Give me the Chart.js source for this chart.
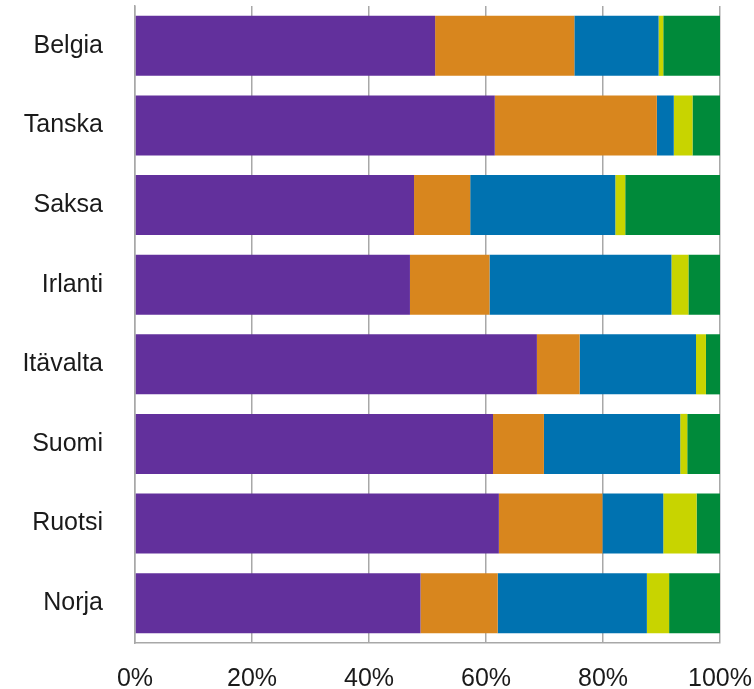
<!DOCTYPE html>
<html>
<head>
<meta charset="utf-8">
<script src="https://cdn.jsdelivr.net/npm/chart.js@4/dist/chart.umd.min.js"></script>
<style>
  html, body { margin: 0; padding: 0; background: #fff; }
  #wrap { width: 754px; height: 689px; }
</style>
</head>
<body>
<div id="wrap"><canvas id="shareChart"></canvas></div>
<script>
const countries = ['Belgia', 'Tanska', 'Saksa', 'Irlanti', 'Itävalta', 'Suomi', 'Ruotsi', 'Norja'];
const purpleShare = [51.3, 61.5, 47.7, 47.0, 68.7, 61.2, 62.2, 48.8];
const orangeShare = [23.8, 27.7, 9.6, 13.6, 7.3, 8.7, 17.7, 13.2];
const blueShare   = [14.4, 2.9, 24.8, 31.1, 19.9, 23.3, 10.4, 25.5];
const yellowShare = [0.8, 3.2, 1.7, 2.9, 1.7, 1.2, 5.7, 3.8];
const greenShare  = [9.7, 4.7, 16.2, 5.4, 2.4, 5.6, 4.0, 8.7];
const xTicks = [0, 20, 40, 60, 80, 100];

const ctxShare = document.getElementById('shareChart').getContext('2d');
new Chart(ctxShare, {
    type: 'bar',
    data: {
        labels: countries,
        datasets: [
            { label: 'Sarja 1', data: purpleShare, backgroundColor: '#62309C' },
            { label: 'Sarja 2', data: orangeShare, backgroundColor: '#D8861E' },
            { label: 'Sarja 3', data: blueShare, backgroundColor: '#0072B0' },
            { label: 'Sarja 4', data: yellowShare, backgroundColor: '#C8D400' },
            { label: 'Sarja 5', data: greenShare, backgroundColor: '#008A3A' }
        ]
    },
    options: {
        indexAxis: 'y',
        responsive: true,
        maintainAspectRatio: false,
        animation: false,
        layout: { padding: { top: 6, right: 34, left: 0, bottom: 0 } },
        datasets: {
            bar: { categoryPercentage: 1, barPercentage: 0.755 }
        },
        plugins: {
            legend: { display: false },
            tooltip: { enabled: false }
        },
        scales: {
            x: {
                stacked: true,
                min: 0,
                max: 100,
                afterBuildTicks: (scale) => {
                    scale.ticks = xTicks.map(v => ({ value: v }));
                },
                afterFit: (scale) => { scale.height = 46; },
                grid: { color: '#a8a8a8', lineWidth: 1.5, drawTicks: true, tickLength: 21, tickColor: 'rgba(0,0,0,0)' },
                border: { color: '#a8a8a8', width: 1.5 },
                ticks: {
                    padding: 0,
                    color: '#1a1a1a',
                    font: { family: 'Liberation Sans, Arial, sans-serif', size: 25 },
                    callback: (v) => v + '%'
                }
            },
            y: {
                stacked: true,
                afterFit: (scale) => {
                    scale.width = 135;
                    scale.paddingTop = 0;
                    scale.paddingBottom = 0;
                },
                grid: { display: false, drawTicks: true, tickLength: 30 },
                border: { color: '#a8a8a8', width: 1.5 },
                ticks: {
                    padding: 2,
                    color: '#1a1a1a',
                    font: { family: 'Liberation Sans, Arial, sans-serif', size: 25 }
                }
            }
        }
    }
});
</script>
</body>
</html>
